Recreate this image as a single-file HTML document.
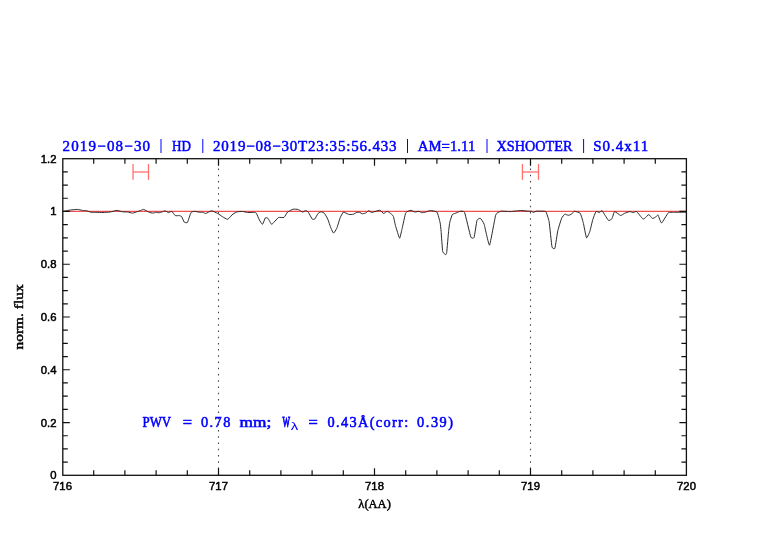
<!DOCTYPE html><html><head><meta charset="utf-8"><style>html,body{margin:0;padding:0;background:#fff;width:782px;height:542px;overflow:hidden}svg{display:block;will-change:transform}</style></head><body>
<svg width="782" height="542" viewBox="0 0 782 542">
<rect width="782" height="542" fill="#fff"/>
<line x1="218.50" y1="158.7" x2="218.50" y2="475.3" stroke="#444" stroke-width="1.1" stroke-dasharray="1.5 4.73" stroke-dashoffset="2.71"/>
<line x1="530.50" y1="158.7" x2="530.50" y2="475.3" stroke="#444" stroke-width="1.1" stroke-dasharray="1.5 4.73" stroke-dashoffset="2.71"/>
<line x1="62.8" y1="211.35" x2="686.4" y2="211.35" stroke="#f25050" stroke-width="1.05"/>
<path d="M63.00 211.40C63.17 211.37 65.19 211.08 65.60 211.00C66.01 210.92 68.42 210.31 69.20 210.20C69.98 210.09 76.41 209.39 77.30 209.40C78.19 209.41 81.89 210.31 82.50 210.40C83.11 210.49 85.92 210.57 86.50 210.70C87.08 210.83 90.58 212.19 91.20 212.30C91.82 212.41 95.01 212.29 95.80 212.30C96.59 212.31 102.05 212.52 103.00 212.50C103.95 212.48 109.05 212.14 110.00 212.00C110.95 211.86 116.37 210.41 117.20 210.40C118.03 210.39 121.71 211.69 122.40 211.80C123.09 211.91 126.82 211.91 127.50 212.00C128.18 212.09 131.92 213.13 132.60 213.10C133.28 213.07 137.15 211.68 137.70 211.50C138.25 211.32 140.41 210.54 140.80 210.40C141.19 210.26 143.25 209.38 143.60 209.40C143.95 209.42 145.73 210.51 146.10 210.70C146.47 210.89 148.75 212.14 149.20 212.30C149.65 212.46 152.32 213.10 152.80 213.10C153.28 213.10 155.99 212.32 156.40 212.30C156.81 212.28 158.49 212.83 158.90 212.80C159.31 212.77 162.09 211.93 162.50 211.80C162.91 211.67 164.59 210.75 165.00 210.80C165.41 210.85 168.15 212.57 168.60 212.60C169.05 212.63 171.25 211.10 171.70 211.30C172.15 211.50 174.79 215.31 175.30 215.60C175.81 215.89 178.88 215.53 179.30 215.60C179.72 215.67 181.27 216.17 181.60 216.60C181.93 217.03 183.81 221.61 184.20 222.00C184.59 222.39 186.95 223.13 187.40 222.50C187.85 221.87 190.53 213.35 191.00 212.60C191.47 211.85 193.91 211.32 194.50 211.30C195.09 211.28 199.33 212.23 199.90 212.30C200.47 212.37 202.61 212.22 203.00 212.30C203.39 212.38 205.13 213.60 205.70 213.50C206.27 213.40 210.79 210.80 211.60 210.80C212.41 210.80 217.09 213.11 217.80 213.50C218.51 213.89 221.64 216.21 222.30 216.60C222.96 216.99 226.99 219.47 227.70 219.30C228.41 219.13 232.35 214.50 233.00 214.00C233.65 213.50 236.76 211.97 237.40 211.80C238.04 211.63 241.91 211.45 242.60 211.50C243.29 211.55 246.92 212.45 247.70 212.50C248.48 212.55 253.72 212.25 254.30 212.30C254.88 212.35 256.06 212.79 256.40 213.30C256.74 213.81 258.99 219.27 259.40 220.00C259.81 220.73 262.11 224.44 262.50 224.30C262.89 224.16 264.93 218.29 265.30 217.90C265.67 217.51 267.67 217.97 268.10 218.40C268.53 218.83 271.01 224.35 271.70 224.30C272.39 224.25 277.58 218.06 278.40 217.60C279.22 217.14 283.39 217.77 284.00 217.40C284.61 217.03 286.99 212.65 287.60 212.10C288.21 211.55 292.52 209.38 293.20 209.20C293.88 209.02 297.41 209.35 297.80 209.40C298.19 209.45 298.95 209.93 299.10 210.00C299.25 210.07 299.77 210.36 300.00 210.50C300.23 210.64 302.21 212.10 302.60 212.10C302.99 212.10 305.41 210.48 305.80 210.50C306.19 210.52 307.97 211.82 308.40 212.40C308.83 212.98 311.87 218.77 312.30 219.20C312.73 219.63 314.51 219.29 314.90 218.90C315.29 218.51 317.67 213.87 318.10 213.40C318.53 212.93 320.87 211.80 321.30 211.80C321.73 211.80 324.07 212.91 324.50 213.40C324.93 213.89 327.37 218.21 327.80 219.20C328.23 220.19 330.61 227.37 331.00 228.30C331.39 229.23 333.21 233.10 333.60 233.10C333.99 233.10 336.37 229.31 336.80 228.30C337.23 227.29 339.67 218.98 340.10 217.90C340.53 216.82 342.79 212.36 343.30 212.10C343.81 211.84 347.41 213.84 347.80 214.00C348.19 214.16 348.83 214.48 349.20 214.50C349.57 214.52 352.82 214.43 353.30 214.30C353.78 214.17 355.99 212.63 356.40 212.50C356.81 212.37 358.99 212.21 359.40 212.30C359.81 212.39 362.05 213.77 362.50 213.80C362.95 213.83 365.69 213.01 366.10 212.80C366.51 212.59 368.23 210.72 368.60 210.70C368.97 210.68 371.22 212.46 371.70 212.50C372.18 212.54 375.25 211.45 375.80 211.30C376.35 211.15 379.47 210.05 380.00 210.20C380.53 210.35 383.23 213.43 383.70 213.50C384.17 213.57 386.61 211.35 387.00 211.30C387.39 211.25 389.18 212.38 389.60 212.70C390.02 213.02 392.91 215.23 393.30 216.10C393.69 216.97 395.08 224.23 395.50 225.70C395.92 227.17 399.16 238.01 399.60 238.20C400.04 238.39 401.69 230.30 402.10 228.60C402.51 226.90 405.21 213.92 405.80 212.70C406.39 211.48 410.41 210.35 411.00 210.30C411.59 210.25 414.16 211.93 414.70 212.00C415.24 212.07 418.64 211.25 419.10 211.30C419.56 211.35 421.17 212.64 421.60 212.70C422.03 212.76 424.91 212.35 425.50 212.20C426.09 212.05 429.63 210.50 430.40 210.50C431.17 210.50 436.45 211.39 437.10 212.20C437.75 213.01 439.83 221.43 440.10 222.70C440.37 223.97 440.93 229.37 441.10 231.30C441.27 233.23 442.39 250.05 442.70 251.60C443.01 253.15 445.43 254.53 445.70 254.60C445.97 254.67 446.50 254.22 446.70 252.60C446.90 250.98 448.49 232.33 448.70 230.30C448.91 228.27 449.56 223.25 449.80 222.20C450.04 221.15 451.93 215.19 452.30 214.60C452.67 214.01 454.83 213.50 455.30 213.30C455.77 213.10 459.09 211.74 459.40 211.60C459.71 211.46 459.65 211.14 460.00 211.20C460.35 211.26 463.88 210.78 464.60 212.50C465.32 214.22 470.17 235.34 470.80 237.00C471.43 238.66 473.69 238.51 474.10 237.40C474.51 236.29 476.59 221.67 477.00 220.40C477.41 219.13 479.83 218.05 480.30 218.30C480.77 218.55 483.49 222.31 484.10 224.10C484.71 225.89 488.73 245.81 489.50 245.20C490.27 244.59 495.01 217.24 495.70 215.00C496.39 212.76 499.39 211.86 499.80 211.60C500.21 211.34 501.08 211.10 501.80 211.10C502.52 211.10 509.35 211.64 510.60 211.60C511.85 211.56 519.49 210.53 520.60 210.50C521.71 210.47 526.46 211.05 527.20 211.10C527.94 211.15 531.29 211.21 531.70 211.30C532.11 211.39 532.97 212.41 533.30 212.40C533.63 212.39 536.15 211.18 536.60 211.10C537.05 211.02 539.39 211.17 540.00 211.20C540.61 211.23 545.19 210.91 545.80 211.60C546.41 212.29 548.69 219.25 549.10 221.60C549.51 223.95 551.61 245.13 552.00 246.90C552.39 248.67 554.51 249.28 554.90 248.20C555.29 247.12 557.35 232.69 557.80 230.70C558.25 228.71 561.13 219.41 561.60 218.30C562.07 217.19 564.46 214.29 564.90 214.10C565.34 213.91 567.76 215.40 568.20 215.40C568.64 215.40 571.09 214.38 571.50 214.10C571.91 213.82 573.82 211.25 574.40 211.20C574.98 211.15 579.61 212.55 580.20 213.30C580.79 214.05 582.78 220.77 583.20 222.40C583.62 224.03 586.06 237.19 586.50 237.80C586.94 238.41 589.39 232.79 589.80 231.60C590.21 230.41 592.29 221.23 592.70 219.90C593.11 218.57 595.53 212.09 596.00 211.60C596.47 211.11 599.41 212.57 599.80 212.50C600.19 212.43 601.54 210.30 601.90 210.50C602.26 210.70 604.75 214.83 605.20 215.50C605.65 216.17 608.15 220.28 608.60 220.50C609.05 220.72 611.50 219.39 611.90 218.80C612.30 218.21 614.01 211.82 614.60 211.60C615.19 211.38 620.03 215.39 620.70 215.50C621.37 215.61 623.98 213.57 624.60 213.30C625.22 213.03 629.43 211.54 630.00 211.50C630.57 211.46 632.67 212.70 633.10 212.70C633.53 212.70 635.86 211.09 636.50 211.50C637.14 211.91 642.16 218.34 642.70 218.80C643.24 219.26 644.19 218.68 644.60 218.40C645.01 218.12 648.29 214.60 648.80 214.60C649.31 214.60 651.87 218.22 652.30 218.40C652.73 218.58 654.92 217.53 655.30 217.30C655.68 217.07 657.59 214.62 658.00 215.00C658.41 215.38 660.81 223.15 661.50 223.00C662.19 222.85 667.59 213.41 668.40 212.70C669.21 211.99 672.57 212.33 673.70 212.30C674.83 212.27 684.45 212.23 685.30 212.30C686.15 212.37 686.33 213.33 686.40 213.40" fill="none" stroke="#2a2a2a" stroke-width="1.0" stroke-linejoin="round"/>
<g stroke="#ff7070" stroke-width="1.3" fill="none"><line x1="133.05" y1="163.9" x2="133.05" y2="179.8"/><line x1="148.5" y1="163.9" x2="148.5" y2="179.8"/><line x1="133.05" y1="172" x2="148.5" y2="172"/></g>
<g stroke="#ff7070" stroke-width="1.3" fill="none"><line x1="522.4" y1="163.9" x2="522.4" y2="179.8"/><line x1="538.5" y1="163.9" x2="538.5" y2="179.8"/><line x1="522.4" y1="172" x2="538.5" y2="172"/></g>
<path d="M93.70 475.3v-5M93.70 158.7v5M124.90 475.3v-5M124.90 158.7v5M156.10 475.3v-5M156.10 158.7v5M187.30 475.3v-5M187.30 158.7v5M218.50 475.3v-7M218.50 158.7v7M249.70 475.3v-5M249.70 158.7v5M280.90 475.3v-5M280.90 158.7v5M312.10 475.3v-5M312.10 158.7v5M343.30 475.3v-5M343.30 158.7v5M374.50 475.3v-7M374.50 158.7v7M405.70 475.3v-5M405.70 158.7v5M436.90 475.3v-5M436.90 158.7v5M468.10 475.3v-5M468.10 158.7v5M499.30 475.3v-5M499.30 158.7v5M530.50 475.3v-7M530.50 158.7v7M561.70 475.3v-5M561.70 158.7v5M592.90 475.3v-5M592.90 158.7v5M624.10 475.3v-5M624.10 158.7v5M655.30 475.3v-5M655.30 158.7v5M62.8 462.11h5M686.4 462.11h-5M62.8 448.92h5M686.4 448.92h-5M62.8 435.73h5M686.4 435.73h-5M62.8 422.53h7M686.4 422.53h-7M62.8 409.34h5M686.4 409.34h-5M62.8 396.15h5M686.4 396.15h-5M62.8 382.96h5M686.4 382.96h-5M62.8 369.77h7M686.4 369.77h-7M62.8 356.57h5M686.4 356.57h-5M62.8 343.38h5M686.4 343.38h-5M62.8 330.19h5M686.4 330.19h-5M62.8 317.00h7M686.4 317.00h-7M62.8 303.81h5M686.4 303.81h-5M62.8 290.62h5M686.4 290.62h-5M62.8 277.42h5M686.4 277.42h-5M62.8 264.23h7M686.4 264.23h-7M62.8 251.04h5M686.4 251.04h-5M62.8 237.85h5M686.4 237.85h-5M62.8 224.66h5M686.4 224.66h-5M62.8 211.47h7M686.4 211.47h-7M62.8 198.27h5M686.4 198.27h-5M62.8 185.08h5M686.4 185.08h-5M62.8 171.89h5M686.4 171.89h-5" stroke="#111" stroke-width="1.2" fill="none"/>
<rect x="62.8" y="158.7" width="623.60" height="316.60" fill="none" stroke="#111" stroke-width="1.3"/>
<text x="56.5" y="479.30" text-anchor="end" style='font-family:"Liberation Sans",sans-serif;font-size:11.3px;stroke:#000;stroke-width:0.5'>0</text>
<text x="56.5" y="426.53" text-anchor="end" style='font-family:"Liberation Sans",sans-serif;font-size:11.3px;stroke:#000;stroke-width:0.5'>0.2</text>
<text x="56.5" y="373.77" text-anchor="end" style='font-family:"Liberation Sans",sans-serif;font-size:11.3px;stroke:#000;stroke-width:0.5'>0.4</text>
<text x="56.5" y="321.00" text-anchor="end" style='font-family:"Liberation Sans",sans-serif;font-size:11.3px;stroke:#000;stroke-width:0.5'>0.6</text>
<text x="56.5" y="268.23" text-anchor="end" style='font-family:"Liberation Sans",sans-serif;font-size:11.3px;stroke:#000;stroke-width:0.5'>0.8</text>
<text x="56.5" y="215.47" text-anchor="end" style='font-family:"Liberation Sans",sans-serif;font-size:11.3px;stroke:#000;stroke-width:0.5'>1</text>
<text x="56.5" y="162.70" text-anchor="end" style='font-family:"Liberation Sans",sans-serif;font-size:11.3px;stroke:#000;stroke-width:0.5'>1.2</text>
<text x="62.50" y="490.2" text-anchor="middle" style='font-family:"Liberation Sans",sans-serif;font-size:11.3px;stroke:#000;stroke-width:0.5'>716</text>
<text x="218.50" y="490.2" text-anchor="middle" style='font-family:"Liberation Sans",sans-serif;font-size:11.3px;stroke:#000;stroke-width:0.5'>717</text>
<text x="374.50" y="490.2" text-anchor="middle" style='font-family:"Liberation Sans",sans-serif;font-size:11.3px;stroke:#000;stroke-width:0.5'>718</text>
<text x="530.50" y="490.2" text-anchor="middle" style='font-family:"Liberation Sans",sans-serif;font-size:11.3px;stroke:#000;stroke-width:0.5'>719</text>
<text x="686.50" y="490.2" text-anchor="middle" style='font-family:"Liberation Sans",sans-serif;font-size:11.3px;stroke:#000;stroke-width:0.5'>720</text>
<text x="374.6" y="507.5" text-anchor="middle" style='font-family:"Liberation Serif",serif;font-size:12.5px;stroke:#000;stroke-width:0.45'>&#955;(AA)</text>
<text transform="translate(23.0,349.4) rotate(-90)" x="0" y="0" textLength="65" lengthAdjust="spacingAndGlyphs" style='font-family:"Liberation Serif",serif;font-size:12.5px;stroke:#000;stroke-width:0.45'>norm. flux</text>
<text x="62.5" y="150.5" textLength="87.6" lengthAdjust="spacing" style='font-family:"Liberation Serif",serif;font-size:15px;fill:#0000ff;stroke:#0000ff;stroke-width:0.5'>2019−08−30</text>
<text x="172.1" y="150.5" textLength="18.9" lengthAdjust="spacingAndGlyphs" style='font-family:"Liberation Serif",serif;font-size:15px;fill:#0000ff;stroke:#0000ff;stroke-width:0.5'>HD</text>
<text x="213.0" y="150.5" textLength="183.5" lengthAdjust="spacing" style='font-family:"Liberation Serif",serif;font-size:15px;fill:#0000ff;stroke:#0000ff;stroke-width:0.5'>2019−08−30T23:35:56.433</text>
<text x="417.8" y="150.5" textLength="57.5" lengthAdjust="spacingAndGlyphs" style='font-family:"Liberation Serif",serif;font-size:15px;fill:#0000ff;stroke:#0000ff;stroke-width:0.5'>AM=1.11</text>
<text x="496.5" y="150.5" textLength="76.0" lengthAdjust="spacingAndGlyphs" style='font-family:"Liberation Serif",serif;font-size:15px;fill:#0000ff;stroke:#0000ff;stroke-width:0.5'>XSHOOTER</text>
<text x="593.3" y="150.5" textLength="54.9" lengthAdjust="spacing" style='font-family:"Liberation Serif",serif;font-size:15px;fill:#0000ff;stroke:#0000ff;stroke-width:0.5'>S0.4x11</text>
<line x1="161" y1="139" x2="161" y2="153" stroke="#0000ff" stroke-width="1.0"/>
<line x1="202.8" y1="139" x2="202.8" y2="153" stroke="#0000ff" stroke-width="1.0"/>
<line x1="407.5" y1="139" x2="407.5" y2="153" stroke="#0000ff" stroke-width="1.0"/>
<line x1="487" y1="139" x2="487" y2="153" stroke="#0000ff" stroke-width="1.0"/>
<line x1="583.6" y1="139" x2="583.6" y2="153" stroke="#0000ff" stroke-width="1.0"/>
<text x="142.5" y="427.3" textLength="28.7" lengthAdjust="spacingAndGlyphs" style='font-family:"Liberation Serif",serif;font-size:14.3px;fill:#0000ff;stroke:#0000ff;stroke-width:0.55'>PWV</text>
<text x="182.7" y="427.3" textLength="9.3" lengthAdjust="spacingAndGlyphs" style='font-family:"Liberation Serif",serif;font-size:14.3px;fill:#0000ff;stroke:#0000ff;stroke-width:0.55'>=</text>
<text x="201.0" y="427.3" textLength="29.3" lengthAdjust="spacing" style='font-family:"Liberation Serif",serif;font-size:14.3px;fill:#0000ff;stroke:#0000ff;stroke-width:0.55'>0.78</text>
<text x="239.5" y="427.3" textLength="31.7" lengthAdjust="spacingAndGlyphs" style='font-family:"Liberation Serif",serif;font-size:14.3px;fill:#0000ff;stroke:#0000ff;stroke-width:0.55'>mm;</text>
<text x="308.5" y="427.3" textLength="9.3" lengthAdjust="spacingAndGlyphs" style='font-family:"Liberation Serif",serif;font-size:14.3px;fill:#0000ff;stroke:#0000ff;stroke-width:0.55'>=</text>
<text x="327.5" y="427.3" textLength="80.7" lengthAdjust="spacing" style='font-family:"Liberation Serif",serif;font-size:14.3px;fill:#0000ff;stroke:#0000ff;stroke-width:0.55'>0.43Å(corr:</text>
<text x="417.1" y="427.3" textLength="35.9" lengthAdjust="spacing" style='font-family:"Liberation Serif",serif;font-size:14.3px;fill:#0000ff;stroke:#0000ff;stroke-width:0.55'>0.39)</text>
<text x="282.4" y="427.3" textLength="7.5" lengthAdjust="spacingAndGlyphs" style='font-family:"Liberation Serif",serif;font-size:14.3px;fill:#0000ff;stroke:#0000ff;stroke-width:0.55;stroke-width:1.0'>W</text>
<text x="290.7" y="430" textLength="7.5" lengthAdjust="spacingAndGlyphs" style='font-family:"Liberation Sans",sans-serif;font-size:10px;fill:#0000ff'>&#955;</text>
</svg></body></html>
